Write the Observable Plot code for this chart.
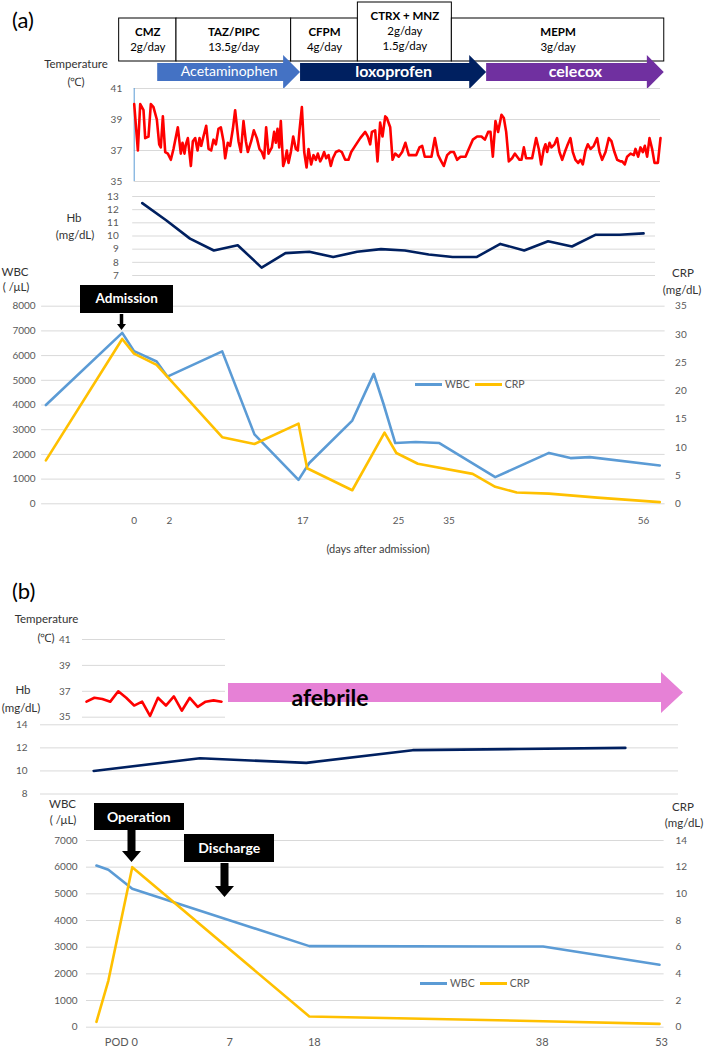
<!DOCTYPE html>
<html>
<head>
<meta charset="utf-8">
<script src="https://cdn.jsdelivr.net/npm/d3@7"></script>
<script src="https://cdn.jsdelivr.net/npm/@observablehq/plot@0.6"></script>
<style>
  html, body { margin: 0; padding: 0; background: #fff; }
  #root { position: relative; width: 709px; height: 1054px; overflow: hidden; font-family: Lato, "Open Sans", sans-serif; }
  .t { position: absolute; white-space: nowrap; transform: translate(-50%, -50%); font-size: 11.5px; color: #333; line-height: 1; }
  .box { position: absolute; background: #000; color: #fff; font-weight: bold; display: flex; align-items: center; justify-content: center; line-height: 1; }
  .panel { position: absolute; font-size: 22px; color: #000; line-height: 1; }
  .legend { position: absolute; display: flex; align-items: center; font-size: 10.5px; color: #595959; transform: translateY(-50%); }
  .legend .sw { display: inline-block; width: 27px; height: 3px; margin-right: 3px; }
</style>
</head>
<body>
<div id="root"></div>
<script>
// ---------------- DATA : panel (a) ----------------
const regimenDrug  = ["CMZ", "TAZ/PIPC", "CFPM", "CTRX + MNZ", "MEPM"];
const regimenDose  = [["2g/day"], ["13.5g/day"], ["4g/day"], ["2g/day", "1.5g/day"], ["3g/day"]];
const regimenStart = [-1.6, 4.5, 16.7, 23.8, 33.8];   // days (temperature timeline)
const regimenEnd   = [4.5, 16.7, 23.8, 33.8, 56.4];

const analgesicName  = ["Acetaminophen", "loxoprofen", "celecox"];
const analgesicStart = [2.5, 17.7, 37.5];
const analgesicEnd   = [17.7, 37.5, 56.4];

const tempDaysA = [0.00,0.39,0.64,0.99,1.17,1.52,1.77,2.05,2.41,2.66,2.83,3.05,3.30,3.58,3.90,4.18,4.64,4.96,5.14,5.35,5.50,5.71,6.03,6.24,6.49,6.74,6.95,7.13,7.37,7.66,7.91,8.19,8.44,8.69,8.97,9.22,9.50,9.68,9.96,10.21,10.50,10.74,11.10,11.35,11.63,11.88,12.09,12.45,12.73,13.05,13.33,13.58,13.83,14.04,14.29,14.47,14.65,14.89,15.07,15.25,15.43,15.60,15.85,16.06,16.24,16.42,16.67,16.92,17.20,17.41,17.59,17.84,18.09,18.34,18.55,18.83,19.08,19.33,19.54,19.79,19.97,20.21,20.43,20.68,20.92,21.14,21.46,21.81,22.09,22.45,22.80,23.09,23.51,24.05,24.58,24.86,25.11,25.29,25.64,25.89,26.17,26.42,26.71,26.88,27.24,27.49,27.77,28.15,28.51,28.86,29.22,29.57,30.00,30.35,30.64,30.92,31.35,31.63,31.99,32.34,32.59,32.94,33.30,33.65,34.01,34.36,34.72,35.25,35.60,36.03,36.49,36.95,37.31,37.66,37.91,38.16,38.44,38.72,39.08,39.33,39.58,39.86,40.21,40.50,40.75,40.99,41.21,41.46,41.70,41.99,42.34,42.77,43.05,43.30,43.58,43.76,43.94,44.19,44.40,44.72,45.00,45.25,45.54,45.82,46.07,46.42,46.67,46.95,47.24,47.49,47.73,48.02,48.27,48.55,48.90,49.26,49.51,49.79,50.15,50.50,50.78,51.10,51.39,51.74,51.92,52.20,52.45,52.81,53.16,53.34,53.62,53.87,54.12,54.33,54.58,54.83,55.11,55.36,55.72,56.00];
const tempValuesA = [40.0,37.0,40.0,39.6,37.8,37.9,40.0,39.8,39.0,37.4,37.2,39.2,36.9,36.8,36.4,37.1,38.5,36.8,37.5,36.8,37.4,37.8,36.0,37.6,37.8,37.0,37.8,37.3,37.9,38.6,37.1,37.0,37.7,37.4,38.4,38.5,37.6,36.5,37.5,37.3,38.4,39.6,37.6,36.9,38.9,37.6,36.9,37.6,38.3,37.8,37.1,36.9,36.5,38.5,36.8,37.0,37.2,38.2,37.5,38.4,37.2,38.9,36.0,36.4,37.0,36.2,36.9,37.9,37.1,37.0,38.3,39.8,36.9,35.9,37.1,36.1,36.7,36.4,36.8,36.3,36.5,36.9,36.5,36.7,36.0,36.5,36.9,37.0,36.9,36.4,36.4,36.9,37.3,37.8,38.2,37.9,37.4,38.2,38.3,36.3,38.8,37.9,39.2,39.1,38.5,36.4,36.8,36.6,36.9,37.5,36.7,36.7,36.7,37.2,37.3,36.6,36.6,36.6,37.8,36.7,36.4,36.0,36.7,36.9,36.9,36.4,36.6,36.6,37.1,37.7,37.9,37.9,37.7,38.2,38.2,36.6,38.9,38.2,39.3,39.1,38.2,36.3,36.5,36.8,36.6,36.4,36.4,37.2,36.5,36.5,36.5,37.8,37.1,36.1,37.1,37.4,36.9,37.5,37.2,37.4,37.8,36.9,36.4,36.9,37.3,37.8,36.9,36.4,36.2,36.4,36.1,37.0,37.4,37.1,37.3,37.8,36.9,36.4,36.9,37.8,37.6,36.9,36.4,36.3,36.3,36.1,36.6,36.8,36.7,37.1,36.6,37.2,36.9,37.3,36.6,37.8,37.1,36.2,36.2,37.8];
const tempTicksA = [35, 37, 39, 41];

const hbValuesA = [12.5, 11.2, 9.8, 8.9, 9.3, 7.6, 8.7, 8.8, 8.4, 8.8, 9.0, 8.9, 8.6, 8.4, 8.4, 9.4, 8.9, 9.6, 9.2, 10.1, 10.1, 10.2];
const hbTicksA = [7, 8, 9, 10, 11, 12, 13];

const wbcDaysA = [-7.1, 0, 1.1, 3.2, 4.2, 9.3, 12.3, 16.4, 17.4, 21.4, 23.4, 24.3, 25.4, 27.3, 29.5, 34.7, 39.7, 41.7, 43.5, 50];
const wbcValuesA = [4000, 6920, 6180, 5760, 5150, 6170, 2810, 970, 1650, 3370, 5260, 4050, 2460, 2500, 2460, 1080, 2060, 1850, 1890, 1550];
const crpDaysA = [-7.1, 0, 1.1, 3.2, 9.3, 12.3, 16.4, 17.2, 21.4, 24.4, 25.5, 27.5, 32.6, 34.7, 36.7, 39.7, 44.2, 50];
const crpValuesA = [7.7, 29.2, 26.6, 24.6, 11.8, 10.6, 14.2, 6.3, 2.4, 12.6, 9.0, 7.1, 5.3, 3.0, 2.0, 1.8, 1.1, 0.3];
const wbcTicksA = [0, 1000, 2000, 3000, 4000, 5000, 6000, 7000, 8000];
const crpTicksA = [0, 5, 10, 15, 20, 25, 30, 35];
const dayTickPosA = [1.1, 4.4, 16.8, 25.7, 30.4, 48.5];
const dayTickLabelsA = ["0", "2", "17", "25", "35", "56"];
const admissionDay = 0;

// ---------------- DATA : panel (b) ----------------
const tempValuesB = [36.2, 36.5, 36.4, 36.2, 37.0, 36.5, 35.9, 36.2, 35.1, 36.5, 35.9, 36.6, 35.5, 36.5, 35.8, 36.2, 36.3, 36.2];
const tempTicksB = [35, 37, 39, 41];
const hbValuesB = [10.0, 11.1, 10.7, 11.8, 11.9, 12.0];
const hbTicksB = [8, 10, 12, 14];
const podB = [-3.6, -2.4, 0, 17.8, 41.3, 53];
const wbcValuesB = [6060, 5900, 5190, 3040, 3025, 2340];
const crpValuesB = [0.4, 3.5, 12.0, 0.8, 0.45, 0.25];
const wbcTicksB = [0, 1000, 2000, 3000, 4000, 5000, 6000, 7000];
const crpTicksB = [0, 2, 4, 6, 8, 10, 12, 14];
const podTickPosB = [-1.1, 9.8, 18.3, 41.2, 53.2];
const podTickLabelsB = ["POD 0", "7", "18", "38", "53"];
const eventNameB = ["Operation", "Discharge"];
const eventPodB = [0, 9.3];

// ---------------- helpers ----------------
const root = document.getElementById("root");
const FONT = "Lato, 'Open Sans', sans-serif";
const GRID = "#d9d9d9";
const TICK = "#595959";
const BLUE = "#5B9BD5", GOLD = "#FFC000", RED = "#FF0000", NAVY = "#002060";
const baseStyle = {background: "transparent", color: TICK, fontFamily: FONT, fontSize: "10px", overflow: "visible"};
const plain = d => String(d);

function mount(svg, top) {
  svg.style.position = "absolute";
  svg.style.left = "0px";
  svg.style.top = top + "px";
  root.appendChild(svg);
  return svg;
}
function text(str, cx, cy, css = {}) {
  const d = document.createElement("div");
  d.className = "t"; d.textContent = str;
  d.style.left = cx + "px"; d.style.top = cy + "px";
  Object.assign(d.style, css);
  root.appendChild(d);
  return d;
}
function downArrow(cx, top, len, shaft, head, headLen) {
  const w = head, h = len, c = w / 2;
  const pts = [[c - shaft/2, 0], [c + shaft/2, 0], [c + shaft/2, h - headLen], [w, h - headLen], [c, h], [0, h - headLen], [c - shaft/2, h - headLen]];
  const div = document.createElement("div");
  Object.assign(div.style, {position: "absolute", left: (cx - c) + "px", top: top + "px"});
  div.innerHTML = `<svg width="${w}" height="${h}" style="display:block"><polygon points="${pts.map(p => p.join(",")).join(" ")}" fill="#000"/></svg>`;
  root.appendChild(div);
}
function tagBox(str, cx, top, w, h, fs) {
  const d = document.createElement("div");
  d.className = "box"; d.textContent = str;
  Object.assign(d.style, {left: (cx - w/2) + "px", top: top + "px", width: w + "px", height: h + "px", fontSize: fs + "px"});
  root.appendChild(d);
}
function legend(left, cy) {
  const d = document.createElement("div");
  d.className = "legend";
  d.style.left = left + "px"; d.style.top = cy + "px";
  d.innerHTML = `<span class="sw" style="background:${BLUE}"></span><span style="margin-right:5px">WBC</span><span class="sw" style="background:${GOLD}"></span><span>CRP</span>`;
  root.appendChild(d);
}

// ---------------- panel (a): header (regimens + analgesics) ----------------
const regimens = regimenDrug.map((drug, i) => ({drug, doses: regimenDose[i], start: regimenStart[i], end: regimenEnd[i]}));
const doseRows = regimens.flatMap(r => r.doses.map((dose, j) => ({...r, dose, j})));
const boxTop = r => r.doses.length > 1 ? 2 : 18;
const analgesics = analgesicName.map((name, i) => ({name, start: analgesicStart[i], end: analgesicEnd[i]}));
const ARROW_COLOR = {Acetaminophen: "#4472C4", loxoprofen: "#002060", celecox: "#7030A0"};
const HEAD = 1.8;
const arrowPts = analgesics.flatMap(a => {
  const b = a.end - HEAD;
  return [
    {name: a.name, x: a.start, y1: 63, y2: 81},
    {name: a.name, x: b, y1: 63, y2: 81},
    {name: a.name, x: b, y1: 55, y2: 89},
    {name: a.name, x: a.end, y1: 72, y2: 72}
  ];
});

const header = Plot.plot({
  width: 709, height: 92, marginLeft: 133.7, marginRight: 49, marginTop: 0, marginBottom: 0,
  style: baseStyle,
  x: {domain: [0, 56], axis: null},
  y: {domain: [0, 92], range: [0, 92], axis: null},
  color: {type: "identity"},
  marks: [
    Plot.rect(regimens, {x1: "start", x2: "end", y1: boxTop, y2: 61, fill: "white", stroke: "black", strokeWidth: 1}),
    Plot.text(regimens, {x: r => (r.start + r.end) / 2, y: r => boxTop(r) + 14, text: "drug", fontWeight: "bold", fill: "#000", fontSize: 11.5}),
    Plot.text(doseRows, {x: r => (r.start + r.end) / 2, y: r => boxTop(r) + 29 + 15 * r.j, text: "dose", fill: "#000", fontSize: 11.5}),
    Plot.areaY(arrowPts, {x: "x", y1: "y1", y2: "y2", z: "name", fill: d => ARROW_COLOR[d.name]}),
    Plot.text(analgesics.filter(a => a.name === "Acetaminophen"), {x: a => (a.start + a.end) / 2, y: 71, text: "name", fill: "white", fontSize: 14}),
    Plot.text(analgesics.filter(a => a.name !== "Acetaminophen"), {x: a => (a.start + a.end) / 2, y: 71, text: "name", fill: "white", fontSize: 16, fontWeight: "bold"})
  ]
});
mount(header, 0);

// ---------------- panel (a): temperature ----------------
const tempA = tempDaysA.map((day, i) => ({day, t: tempValuesA[i]}));
const plotTempA = Plot.plot({
  width: 709, height: 104, marginLeft: 133.7, marginRight: 49, marginTop: 4, marginBottom: 7,
  style: baseStyle,
  x: {domain: [0, 56], axis: null},
  y: {domain: [35, 41]},
  marks: [
    Plot.gridY(tempTicksA, {stroke: GRID, strokeOpacity: 1}),
    Plot.axisY(tempTicksA, {tickSize: 0, tickPadding: 12, label: null, tickFormat: plain}),
    Plot.ruleX([0], {stroke: BLUE, strokeWidth: 1}),
    Plot.line(tempA, {x: "day", y: "t", stroke: RED, strokeWidth: 2.6})
  ]
});
mount(plotTempA, 84);

// ---------------- panel (a): Hb ----------------
const hbA = hbValuesA.map((v, i) => ({i, v}));
const plotHbA = Plot.plot({
  width: 709, height: 92, marginLeft: 132.2, marginRight: 54, marginTop: 8, marginBottom: 5,
  style: baseStyle,
  x: {domain: [-0.4, 21.5], axis: null},
  y: {domain: [7, 13]},
  marks: [
    Plot.gridY(hbTicksA, {stroke: GRID, strokeOpacity: 1}),
    Plot.axisY(hbTicksA, {tickSize: 0, tickPadding: 14, label: null, tickFormat: plain}),
    Plot.line(hbA, {x: "i", y: "v", stroke: NAVY, strokeWidth: 2.6})
  ]
});
mount(plotHbA, 188);

// ---------------- panel (a): WBC / CRP ----------------
const kA = 8000 / 35;
const wbcA = wbcDaysA.map((day, i) => ({day, v: wbcValuesA[i]}));
const crpA = crpDaysA.map((day, i) => ({day, v: crpValuesA[i] * kA}));
const plotWbcA = Plot.plot({
  width: 709, height: 300, marginLeft: 41.1, marginRight: 44.4, marginTop: 45.7, marginBottom: 56.7,
  style: baseStyle,
  x: {domain: [-7.5, 50.5]},
  y: {domain: [0, 8000]},
  marks: [
    Plot.gridY(wbcTicksA, {stroke: GRID, strokeOpacity: 1}),
    Plot.axisY(wbcTicksA, {tickSize: 0, tickPadding: 6, label: null, tickFormat: plain}),
    Plot.axisY(crpTicksA.map(c => c * kA), {anchor: "right", tickSize: 0, tickPadding: 10, label: null, tickFormat: d => String(Math.round(d / kA))}),
    Plot.axisX(dayTickPosA, {tickSize: 0, tickPadding: 13, label: null, tickFormat: d => dayTickLabelsA[dayTickPosA.indexOf(d)]}),
    Plot.line(wbcA, {x: "day", y: "v", stroke: BLUE, strokeWidth: 2.6}),
    Plot.line(crpA, {x: "day", y: "v", stroke: GOLD, strokeWidth: 2.6})
  ]
});
mount(plotWbcA, 260);
const admX = plotWbcA.scale("x").apply(admissionDay);
tagBox("Admission", admX + 5, 285, 93, 28, 13.5);
downArrow(admX, 314, 16, 3.5, 9, 6);
legend(415, 384);

// ---------------- panel (a): text ----------------
const pa = document.createElement("div"); pa.className = "panel"; pa.textContent = "(a)";
Object.assign(pa.style, {left: "12px", top: "9px"}); root.appendChild(pa);
text("Temperature", 76, 64);
text("(℃)", 76, 82);
text("Hb", 74, 218);
text("(mg/dL)", 75, 235);
text("WBC", 15, 272);
text("( /μL)", 16, 287);
text("CRP", 683, 273);
text("(mg/dL)", 682, 290);
text("(days after admission)", 378, 548, {fontSize: "11px", color: "#404040"});

// ---------------- panel (b): temperature ----------------
const tempB = tempValuesB.map((t, i) => ({i, t}));
const plotTempB = Plot.plot({
  width: 709, height: 92, marginLeft: 82, marginRight: 484, marginTop: 9, marginBottom: 5.3,
  style: baseStyle,
  x: {domain: [-0.5, 17.5], axis: null},
  y: {domain: [35, 41]},
  marks: [
    Plot.gridY(tempTicksB, {stroke: GRID, strokeOpacity: 1}),
    Plot.axisY(tempTicksB, {tickSize: 0, tickPadding: 12, label: null, tickFormat: plain}),
    Plot.line(tempB, {x: "i", y: "t", stroke: RED, strokeWidth: 2.6})
  ]
});
mount(plotTempB, 630);

// ---------------- panel (b): Hb ----------------
const hbB = hbValuesB.map((v, i) => ({i, v}));
const plotHbB = Plot.plot({
  width: 709, height: 84, marginLeft: 40, marginRight: 31, marginTop: 8.3, marginBottom: 6.5,
  style: baseStyle,
  x: {domain: [-0.5, 5.5], axis: null},
  y: {domain: [8, 14]},
  marks: [
    Plot.gridY(hbTicksB, {stroke: GRID, strokeOpacity: 1}),
    Plot.axisY(hbTicksB, {tickSize: 0, tickPadding: 13, label: null, tickFormat: plain}),
    Plot.line(hbB, {x: "i", y: "v", stroke: NAVY, strokeWidth: 2.6})
  ]
});
mount(plotHbB, 716);

// afebrile arrow (annotation)
(function () {
  const div = document.createElement("div");
  Object.assign(div.style, {position: "absolute", left: "228px", top: "672px"});
  const pts = [[0, 11], [433, 11], [433, 0], [455, 20.5], [433, 41], [433, 30], [0, 30]];
  div.innerHTML = `<svg width="456" height="42" style="display:block"><polygon points="${pts.map(p => p.join(",")).join(" ")}" fill="#E681D6"/></svg>`;
  root.appendChild(div);
})();
text("afebrile", 330, 697, {fontSize: "23px", fontWeight: "bold", color: "#000"});

// ---------------- panel (b): WBC / CRP ----------------
const kB = 7000 / 14;
const wbcB = podB.map((p, i) => ({p, v: wbcValuesB[i]}));
const crpB = podB.map((p, i) => ({p, v: crpValuesB[i] * kB}));
const plotWbcB = Plot.plot({
  width: 709, height: 254, marginLeft: 86, marginRight: 45.4, marginTop: 40, marginBottom: 27.3,
  style: baseStyle,
  x: {domain: [-4.6, 53.46]},
  y: {domain: [0, 7000]},
  marks: [
    Plot.gridY(wbcTicksB, {stroke: GRID, strokeOpacity: 1}),
    Plot.axisY(wbcTicksB, {tickSize: 0, tickPadding: 9, label: null, tickFormat: plain}),
    Plot.axisY(crpTicksB.map(c => c * kB), {anchor: "right", tickSize: 0, tickPadding: 11.4, label: null, tickFormat: d => String(Math.round(d / kB))}),
    Plot.axisX(podTickPosB, {tickSize: 0, tickPadding: 11, label: null, fontSize: 11, tickFormat: d => podTickLabelsB[podTickPosB.indexOf(d)]}),
    Plot.line(wbcB, {x: "p", y: "v", stroke: BLUE, strokeWidth: 2.6}),
    Plot.line(crpB, {x: "p", y: "v", stroke: GOLD, strokeWidth: 2.6})
  ]
});
mount(plotWbcB, 800);
const xB = plotWbcB.scale("x");
const opX = xB.apply(eventPodB[0]);
const dcX = xB.apply(eventPodB[1]);
tagBox(eventNameB[0], opX + 7, 803, 90, 27, 14);
downArrow(opX, 830, 32, 8, 19, 11);
tagBox(eventNameB[1], dcX + 5, 834, 90, 28, 14);
downArrow(dcX, 863, 34, 8, 19, 11);
legend(420, 983);

// ---------------- panel (b): text ----------------
const pb = document.createElement("div"); pb.className = "panel"; pb.textContent = "(b)";
Object.assign(pb.style, {left: "12px", top: "580px"}); root.appendChild(pb);
text("Temperature", 46.5, 619);
text("(℃)", 46, 638);
text("Hb", 23, 690);
text("(mg/dL)", 21, 708);
text("WBC", 62.5, 804);
text("( /μL)", 63, 820);
text("CRP", 683, 807);
text("(mg/dL)", 684, 823);
</script>
</body>
</html>
